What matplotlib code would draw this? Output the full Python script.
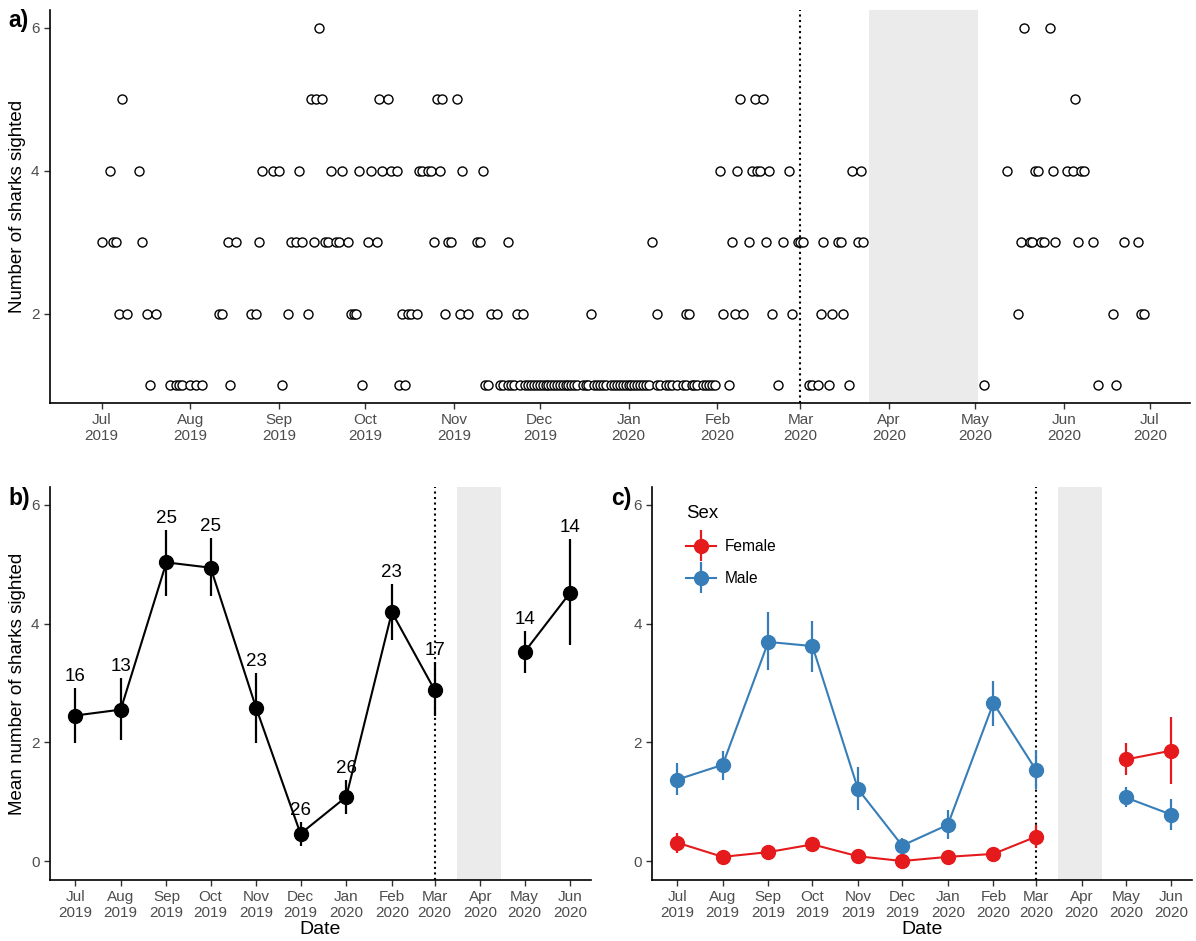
import numpy as np
import pandas as pd
import matplotlib
matplotlib.use('Agg')
import matplotlib.pyplot as plt
import matplotlib.dates as mdates
from matplotlib.container import ErrorbarContainer
from matplotlib.legend_handler import HandlerErrorbar

plt.rcParams['font.family'] = ['Liberation Sans', 'DejaVu Sans']

# ---- panel a: number of sharks seen on each survey day ----
dates_1 = ['2019-07-18', '2019-07-25', '2019-07-27', '2019-07-28', '2019-07-29', '2019-08-01',
           '2019-08-03', '2019-08-05', '2019-08-15', '2019-09-02', '2019-09-30', '2019-10-13',
           '2019-10-15', '2019-11-12', '2019-11-13', '2019-11-17', '2019-11-18', '2019-11-20',
           '2019-11-21', '2019-11-22', '2019-11-24', '2019-11-26', '2019-11-27', '2019-11-28',
           '2019-11-29', '2019-11-30', '2019-12-01', '2019-12-02', '2019-12-03', '2019-12-04',
           '2019-12-05', '2019-12-06', '2019-12-07', '2019-12-08', '2019-12-09', '2019-12-10',
           '2019-12-11', '2019-12-12', '2019-12-13', '2019-12-14', '2019-12-16', '2019-12-17',
           '2019-12-18', '2019-12-20', '2019-12-21', '2019-12-22', '2019-12-23', '2019-12-24',
           '2019-12-26', '2019-12-27', '2019-12-28', '2019-12-29', '2019-12-30', '2019-12-31',
           '2020-01-01', '2020-01-02', '2020-01-03', '2020-01-04', '2020-01-05', '2020-01-06',
           '2020-01-07', '2020-01-08', '2020-01-11', '2020-01-12', '2020-01-14', '2020-01-15',
           '2020-01-16', '2020-01-18', '2020-01-20', '2020-01-21', '2020-01-23', '2020-01-24',
           '2020-01-25', '2020-01-27', '2020-01-28', '2020-01-29', '2020-01-30', '2020-01-31',
           '2020-02-05', '2020-02-22', '2020-03-04', '2020-03-05', '2020-03-07', '2020-03-11',
           '2020-03-18', '2020-05-04', '2020-06-13', '2020-06-19']
dates_2 = ['2019-07-07', '2019-07-10', '2019-07-17', '2019-07-20', '2019-08-11', '2019-08-12',
           '2019-08-22', '2019-08-24', '2019-09-04', '2019-09-11', '2019-09-26', '2019-09-27',
           '2019-09-28', '2019-10-14', '2019-10-16', '2019-10-17', '2019-10-19', '2019-10-29',
           '2019-11-03', '2019-11-06', '2019-11-14', '2019-11-16', '2019-11-23', '2019-11-25',
           '2019-12-19', '2020-01-11', '2020-01-21', '2020-01-22', '2020-02-03', '2020-02-07',
           '2020-02-10', '2020-02-20', '2020-02-27', '2020-03-08', '2020-03-12', '2020-03-16',
           '2020-05-16', '2020-06-18', '2020-06-28', '2020-06-29']
dates_3 = ['2019-07-01', '2019-07-05', '2019-07-06', '2019-07-15', '2019-08-14', '2019-08-17',
           '2019-08-25', '2019-09-05', '2019-09-07', '2019-09-09', '2019-09-13', '2019-09-17',
           '2019-09-18', '2019-09-21', '2019-09-22', '2019-09-25', '2019-10-02', '2019-10-05',
           '2019-10-25', '2019-10-30', '2019-10-31', '2019-11-09', '2019-11-10', '2019-11-20',
           '2020-01-09', '2020-02-06', '2020-02-12', '2020-02-18', '2020-02-24', '2020-02-29',
           '2020-03-01', '2020-03-02', '2020-03-09', '2020-03-14', '2020-03-15', '2020-03-21',
           '2020-03-23', '2020-05-17', '2020-05-20', '2020-05-21', '2020-05-24', '2020-05-25',
           '2020-05-29', '2020-06-06', '2020-06-11', '2020-06-22', '2020-06-27']
dates_4 = ['2019-07-04', '2019-07-14', '2019-08-26', '2019-08-30', '2019-09-01', '2019-09-08',
           '2019-09-19', '2019-09-23', '2019-09-29', '2019-10-03', '2019-10-07', '2019-10-10',
           '2019-10-12', '2019-10-20', '2019-10-21', '2019-10-23', '2019-10-24', '2019-10-27',
           '2019-11-04', '2019-11-11', '2020-02-02', '2020-02-08', '2020-02-13', '2020-02-15',
           '2020-02-16', '2020-02-19', '2020-02-26', '2020-03-19', '2020-03-22', '2020-05-12',
           '2020-05-22', '2020-05-23', '2020-05-28', '2020-06-02', '2020-06-04', '2020-06-07',
           '2020-06-08']
dates_5 = ['2019-07-08', '2019-09-12', '2019-09-14', '2019-09-16', '2019-10-06', '2019-10-09',
           '2019-10-26', '2019-10-28', '2019-11-02', '2020-02-09', '2020-02-14', '2020-02-17',
           '2020-06-05']
dates_6 = ['2019-09-15', '2020-05-18', '2020-05-27']

# ---- panels b and c: monthly means with intervals ----
months = ['2019-07-01', '2019-08-01', '2019-09-01', '2019-10-01', '2019-11-01', '2019-12-01',
          '2020-01-01', '2020-02-01', '2020-03-01', '2020-05-01', '2020-06-01']
mean_all = [2.45, 2.55, 5.03, 4.94, 2.57, 0.46, 1.08, 4.19, 2.88, 3.52, 4.52]
lo_all = [1.98, 2.03, 4.47, 4.46, 1.98, 0.26, 0.79, 3.73, 2.45, 3.17, 3.63]
hi_all = [2.91, 3.08, 5.57, 5.44, 3.17, 0.66, 1.36, 4.66, 3.35, 3.87, 5.42]
n_surveys = [16, 13, 25, 25, 23, 26, 26, 23, 17, 14, 14]

female_mean = [0.31, 0.07, 0.15, 0.28, 0.08, 0.00, 0.07, 0.12, 0.41, 1.71, 1.86]
female_lo = [0.14, 0.02, 0.08, 0.18, 0.02, 0.00, 0.02, 0.05, 0.22, 1.45, 1.30]
female_hi = [0.48, 0.12, 0.22, 0.38, 0.14, 0.00, 0.12, 0.19, 0.60, 1.98, 2.43]
male_mean = [1.37, 1.62, 3.69, 3.62, 1.21, 0.26, 0.61, 2.66, 1.53, 1.07, 0.78]
male_lo = [1.11, 1.37, 3.21, 3.18, 0.86, 0.18, 0.37, 2.28, 1.22, 0.91, 0.52]
male_hi = [1.65, 1.85, 4.19, 4.05, 1.59, 0.38, 0.86, 3.04, 1.87, 1.24, 1.04]

lockdown = pd.Timestamp('2020-03-01')
gap_a = (pd.Timestamp('2020-03-25'), pd.Timestamp('2020-05-02'))
gap_bc = (pd.Timestamp('2020-03-16'), pd.Timestamp('2020-04-15'))

sight = pd.concat([pd.DataFrame({'date': pd.to_datetime(d), 'n': k})
                   for k, d in enumerate([dates_1, dates_2, dates_3, dates_4, dates_5, dates_6], 1)])
monthly = pd.DataFrame({'date': pd.to_datetime(months), 'mean': mean_all, 'lo': lo_all,
                        'hi': hi_all, 'n': n_surveys})

fig = plt.figure(figsize=(11.96, 9.41), dpi=100)
ax_a = fig.add_axes([0.0418, 0.5717, 0.9532, 0.4177])
ax_b = fig.add_axes([0.0418, 0.0648, 0.4522, 0.4177])
ax_c = fig.add_axes([0.5452, 0.0648, 0.4515, 0.4177])


def style(ax):
    for s in ['top', 'right']:
        ax.spines[s].set_visible(False)
    for s in ['left', 'bottom']:
        ax.spines[s].set_linewidth(1.2)
        ax.spines[s].set_color('black')
    ax.tick_params(direction='out', length=4, width=1, color='#333333',
                   labelcolor='#4D4D4D', labelsize=11)
    ax.xaxis.set_major_locator(mdates.MonthLocator())
    ax.xaxis.set_major_formatter(mdates.DateFormatter('%b\n%Y'))
    for lab in ax.get_xticklabels():
        lab.set_horizontalalignment('center')
        lab.set_linespacing(1.1)


# panel a
ax_a.axvspan(*gap_a, color='#EBEBEB', lw=0, zorder=0)
ax_a.axvline(lockdown, color='black', ls=':', lw=1.5, zorder=1)
ax_a.plot(sight['date'], sight['n'], 'o', mfc='white', mec='black', ms=6.5, mew=1, zorder=2)
ax_a.set_xlim(pd.Timestamp('2019-06-13'), pd.Timestamp('2020-07-15'))
ax_a.set_ylim(0.75, 6.25)
ax_a.set_yticks([2, 4, 6])
ax_a.set_ylabel('Number of sharks sighted', fontsize=13.5, labelpad=4)
style(ax_a)


def draw(ax, x, y, lo, hi, color, label=None):
    x = pd.to_datetime(pd.Series(x))
    y, lo, hi = np.asarray(y), np.asarray(lo), np.asarray(hi)
    for i, part in enumerate([(x < gap_bc[0]).values, (x > gap_bc[1]).values]):
        ax.errorbar(x[part], y[part], yerr=[y[part] - lo[part], hi[part] - y[part]],
                    fmt='-o', color=color, ms=10, lw=1.5, elinewidth=1.6, capsize=0,
                    zorder=3, label=label if i == 0 else None)


for ax in (ax_b, ax_c):
    ax.axvspan(*gap_bc, color='#EBEBEB', lw=0, zorder=0)
    ax.axvline(lockdown, color='black', ls=':', lw=1.5, zorder=1)
    ax.set_xlim(pd.Timestamp('2019-06-14'), pd.Timestamp('2020-06-15'))
    ax.set_ylim(-0.32, 6.3)
    ax.set_yticks([0, 2, 4, 6])
    ax.set_xlabel('Date', fontsize=14, labelpad=1)
    style(ax)

# panel b
draw(ax_b, monthly['date'], monthly['mean'], monthly['lo'], monthly['hi'], 'black')
for _, r in monthly.iterrows():
    ax_b.annotate(str(r['n']), (r['date'], r['hi']), xytext=(0, 5), textcoords='offset points',
                  ha='center', va='baseline', fontsize=13.5, color='black')
ax_b.set_ylabel('Mean number of sharks sighted', fontsize=13.5, labelpad=4)

# panel c
draw(ax_c, months, female_mean, female_lo, female_hi, '#E41A1C', 'Female')
draw(ax_c, months, male_mean, male_lo, male_hi, '#377EB8', 'Male')
leg = ax_c.legend(title='Sex', loc='upper left', bbox_to_anchor=(0.037, 0.99), frameon=False,
                  fontsize=11.2, title_fontsize=13.4, handlelength=1.9, handletextpad=0.6,
                  labelspacing=1.1, alignment='left',
                  handler_map={ErrorbarContainer: HandlerErrorbar(yerr_size=1.0)})

fig.text(0.007, 0.99, 'a)', fontsize=16.5, fontweight='bold', va='top')
fig.text(0.007, 0.482, 'b)', fontsize=16.5, fontweight='bold', va='top')
fig.text(0.511, 0.482, 'c)', fontsize=16.5, fontweight='bold', va='top')

fig.savefig('out.png', dpi=100)
